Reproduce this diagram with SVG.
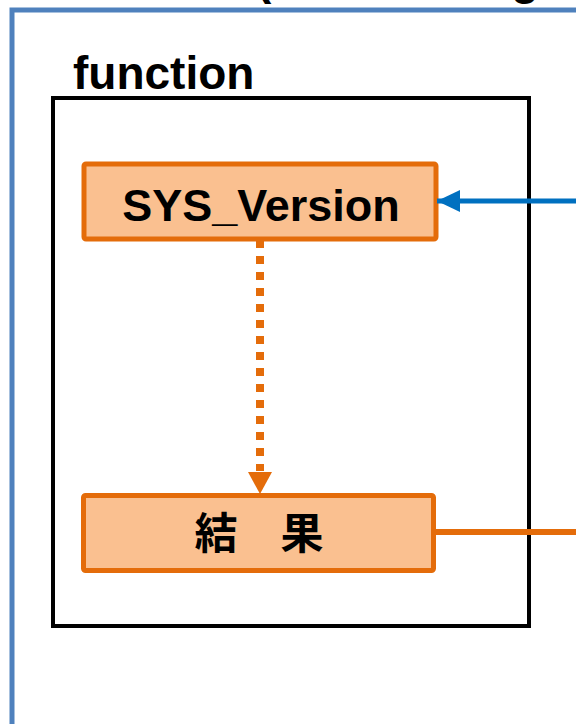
<svg xmlns="http://www.w3.org/2000/svg" width="576" height="724" viewBox="0 0 576 724">
  <style>
    .lbl { font-family: "Liberation Sans", "Noto Sans CJK JP", Arial, sans-serif; font-weight: bold; fill: #000; }
    .node { fill: #FAC090; stroke: #E46C0A; stroke-width: 5; }
    .frame { fill: none; stroke: #000; stroke-width: 4; }
  </style>
  <defs>
    <marker id="arrBlue" markerUnits="userSpaceOnUse" markerWidth="24" markerHeight="24" refX="23" refY="11" orient="auto">
      <path d="M0,0 L23,11 L0,22 Z" fill="#0070C0"/>
    </marker>
  </defs>

  <!-- outer container, clipped by the canvas edges; its title sits above the top edge -->
  <g id="outer">
    <rect x="12" y="10" width="640" height="800" fill="none" stroke="#4F81BD" stroke-width="5"/>
    <text class="lbl" font-size="46" y="-6"><tspan x="256">(</tspan><tspan x="511">g</tspan></text>
  </g>

  <!-- function group -->
  <g id="function">
    <text class="lbl" x="73" y="89" font-size="46">function</text>
    <rect class="frame" x="53" y="98" width="476" height="528"/>
  </g>

  <g id="sys_version">
    <rect class="node" x="84" y="164" width="352" height="75" rx="2"/>
    <text class="lbl" x="261" y="221" font-size="45" text-anchor="middle">SYS_Version</text>
  </g>

  <g id="result">
    <rect class="node" x="83.5" y="495.5" width="350" height="75" rx="2"/>
    <text class="lbl" x="259" y="549" font-size="43" text-anchor="middle" font-family="'Noto Sans CJK JP', sans-serif">結　果</text>
  </g>

  <g id="connectors">
    <line x1="580" y1="201" x2="437" y2="201" stroke="#0070C0" stroke-width="5" marker-end="url(#arrBlue)"/>
    <line x1="260" y1="240" x2="260" y2="471" stroke="#E46C0A" stroke-width="8" stroke-dasharray="8 8"/>
    <path d="M248,472 L272,472 L260,494 Z" fill="#E46C0A"/>
    <line x1="436" y1="532" x2="580" y2="532" stroke="#E46C0A" stroke-width="6"/>
  </g>
</svg>
